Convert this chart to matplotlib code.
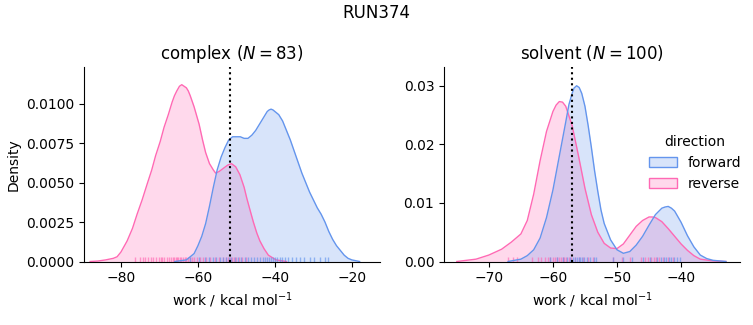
import matplotlib
matplotlib.use("Agg")
import matplotlib.pyplot as plt
from matplotlib.patches import Patch

# KDE curves (work in kcal/mol vs density), one per direction and phase
complex_rev_x = [-88, -86, -84, -82, -81, -80, -78.4, -77, -75.8, -74.5, -73.2, -72, -71, -69.8, -68.8,
                 -67.7, -66.7, -66.1, -65.5, -64.8, -64.2, -63.6, -63, -62.5, -62, -61, -59.7, -58.8,
                 -58, -57, -56, -55.4, -54.5, -53.4, -52.3, -51.3, -50.2, -49.1, -48, -47.3, -46.4, -45.6,
                 -44.7, -43.9, -42.8, -41.7, -39.7, -37]
complex_rev_y = [0, 0.00003, 0.0001, 0.0002, 0.0003, 0.0006, 0.0013, 0.0021, 0.0030, 0.0039, 0.0049,
                 0.0058, 0.0067, 0.0076, 0.0085, 0.0093, 0.0101, 0.0105, 0.0108, 0.0111, 0.0112, 0.0111,
                 0.0110, 0.0108, 0.0105, 0.0098, 0.0087, 0.0077, 0.0069, 0.0062, 0.0058, 0.0056, 0.0057,
                 0.0059, 0.0061, 0.0062, 0.0060, 0.0055, 0.0047, 0.0040, 0.0032, 0.0025, 0.0018, 0.0013,
                 0.0008, 0.0004, 0.0001, 0]

complex_fwd_x = [-66, -63, -61, -60, -59, -58, -57, -56, -55, -54, -53, -52, -51, -50, -49, -48, -47,
                 -46, -45, -44, -43, -42, -41.5, -41, -40.5, -40, -39, -38, -37, -36, -35, -34, -33, -32,
                 -31, -30, -29, -28, -27, -26, -25, -24, -23, -22, -21, -20, -18]
complex_fwd_y = [0, 0.0001, 0.0005, 0.0010, 0.0016, 0.0024, 0.0035, 0.0047, 0.0058, 0.0066, 0.0072,
                 0.0077, 0.0079, 0.0079, 0.0079, 0.0078, 0.0078, 0.0080, 0.0083, 0.0087, 0.0091, 0.0095,
                 0.0096, 0.00965, 0.0096, 0.0095, 0.0093, 0.0089, 0.0083, 0.0077, 0.0070, 0.0063, 0.0056,
                 0.0050, 0.0044, 0.0039, 0.0034, 0.0030, 0.0025, 0.0019, 0.0014, 0.0010, 0.0007, 0.0004,
                 0.0002, 0.0001, 0]

solvent_rev_x = [-75, -72, -70, -68, -66.5, -65, -64, -63, -62, -61, -60, -59.5, -59, -58.5, -58, -57,
                 -56, -55, -54, -53, -52, -51, -50, -49, -48, -47, -46, -45, -44.5, -44, -43, -42, -41,
                 -40, -39, -38, -37, -35, -33]
solvent_rev_y = [0, 0.0004, 0.0011, 0.0021, 0.0033, 0.0047, 0.0070, 0.0115, 0.0172, 0.0222, 0.0256,
                 0.0267, 0.0273, 0.0272, 0.0265, 0.0232, 0.0180, 0.0125, 0.0080, 0.0050, 0.0031, 0.0023,
                 0.0022, 0.0030, 0.0045, 0.0060, 0.0070, 0.0076, 0.0076, 0.0075, 0.0068, 0.0056, 0.0043,
                 0.0030, 0.0019, 0.0010, 0.0004, 0.0001, 0]

solvent_fwd_x = [-67, -65, -64, -63, -62, -61, -60, -59, -58, -57.5, -57, -56.7, -56.3, -55.9, -55.5,
                 -55, -54.5, -54, -53.5, -53, -52.5, -52, -51, -50, -49, -48, -47, -46, -45, -44, -43,
                 -42.5, -42, -41.5, -41, -40, -39, -38, -37, -36, -35, -33]
solvent_fwd_y = [0, 0.0004, 0.0010, 0.0020, 0.0040, 0.0075, 0.0122, 0.0180, 0.0238, 0.0268, 0.0287,
                 0.0296, 0.0300, 0.0297, 0.0287, 0.0265, 0.0232, 0.0195, 0.0155, 0.0120, 0.0088, 0.0065,
                 0.0037, 0.0020, 0.0014, 0.0017, 0.0028, 0.0043, 0.0062, 0.0080, 0.0091, 0.0093, 0.0094,
                 0.0091, 0.0086, 0.0067, 0.0044, 0.0025, 0.0011, 0.0005, 0.0002, 0]

# individual work values shown as rug ticks
complex_rev_rug = [-76.3, -75.1, -74.4, -73.8, -72.9, -72.2, -71.6, -70.8, -70.1, -69.7, -69.3, -68.7,
                   -68.0, -67.4, -66.9, -66.6, -66.3, -65.8, -65.5, -65.2, -64.7, -64.3, -63.9, -63.4,
                   -63.0, -62.5, -62.1, -61.6, -61.0, -60.3, -59.5, -58.8, -57.9, -56.9, -55.6, -54.4,
                   -53.5, -52.8, -52.2, -51.7, -51.2, -50.7, -50.1, -49.4, -48.6, -47.5]
complex_fwd_rug = [-62.1, -59.8, -58.2, -57.0, -56.1, -55.2, -54.3, -53.5, -52.8, -52.0, -51.3, -50.5,
                   -49.6, -48.8, -47.9, -47.0, -46.2, -45.4, -44.6, -43.9, -43.2, -42.6, -42.0, -41.5,
                   -41.0, -40.5, -40.0, -39.4, -38.8, -38.1, -37.3, -36.5, -35.6, -34.6, -33.5, -32.4,
                   -31.0, -29.8, -28.3, -27.0, -26.2]
solvent_rev_rug = [-67.0, -66.3, -65.6, -63.2, -62.4, -61.8, -61.2, -60.8, -60.4, -60.0, -59.7, -59.4,
                   -59.1, -58.8, -58.5, -58.2, -57.9, -57.5, -57.1, -56.6, -56.0, -55.3, -54.5, -53.8,
                   -50.6, -49.2, -48.0, -46.3, -45.6, -45.1, -44.7, -44.3, -43.9, -43.4, -42.8, -42.0,
                   -41.3]
solvent_fwd_rug = [-60.5, -59.3, -58.4, -57.8, -57.3, -56.9, -56.6, -56.3, -56.0, -55.7, -55.4, -55.1,
                   -54.7, -54.2, -53.6, -53.2, -50.6, -49.0, -47.6, -45.9, -44.8, -43.8, -43.2, -42.7,
                   -42.3, -41.9, -41.5, -41.1, -40.6, -40.2]

# free energy estimate per phase (dotted line)
complex_dg = -51.7
solvent_dg = -56.95

n_complex = 83
n_solvent = 100

fwd_color = "cornflowerblue"
rev_color = "hotpink"


def draw_panel(ax, rev, fwd, rev_rug, fwd_rug, dg):
    for (x, y), rug, c in [(rev, rev_rug, rev_color), (fwd, fwd_rug, fwd_color)]:
        ax.fill_between(x, y, 0, color=c, alpha=0.25, lw=0)
        ax.plot(x, y, color=c, lw=1)
        ax.vlines(rug, 0, 0.025, color=c, lw=1, alpha=0.65, transform=ax.get_xaxis_transform())
    ax.axvline(dg, color="k", ls=":", lw=1.5)
    ax.spines["top"].set_visible(False)
    ax.spines["right"].set_visible(False)
    ax.set_xlabel("work / kcal mol$^{-1}$")


fig = plt.figure(figsize=(7.53, 3.25), dpi=100)
ax1 = fig.add_axes([84 / 753, 63.5 / 325, 296 / 753, 194.5 / 325])
ax2 = fig.add_axes([444 / 753, 63.5 / 325, 296 / 753, 194.5 / 325])

draw_panel(ax1, (complex_rev_x, complex_rev_y), (complex_fwd_x, complex_fwd_y),
           complex_rev_rug, complex_fwd_rug, complex_dg)
ax1.set_xlim(-89.6, -12.7)
ax1.set_ylim(0, 0.01232)
ax1.set_xticks([-80, -60, -40, -20])
ax1.set_yticks([0, 0.0025, 0.005, 0.0075, 0.01])
ax1.set_yticklabels(["0.0000", "0.0025", "0.0050", "0.0075", "0.0100"])
ax1.set_ylabel("Density")
ax1.set_title(f"complex ($N = {n_complex}$)")

draw_panel(ax2, (solvent_rev_x, solvent_rev_y), (solvent_fwd_x, solvent_fwd_y),
           solvent_rev_rug, solvent_fwd_rug, solvent_dg)
ax2.set_xlim(-77.0, -30.8)
ax2.set_ylim(0, 0.0332)
ax2.set_xticks([-70, -60, -50, -40])
ax2.set_yticks([0, 0.01, 0.02, 0.03])
ax2.set_yticklabels(["0.00", "0.01", "0.02", "0.03"])
ax2.set_title(f"solvent ($N = {n_solvent}$)")

handles = [Patch(facecolor=(0.847, 0.894, 0.980), edgecolor=fwd_color),
           Patch(facecolor=(1.0, 0.851, 0.925), edgecolor=rev_color)]
ax2.legend(handles, ["forward", "reverse"], title="direction", frameon=False,
           loc="center left", bbox_to_anchor=(643.4 / 753, 1 - 163 / 325),
           bbox_transform=fig.transFigure, borderaxespad=0)

fig.suptitle("RUN374", fontsize=12, y=(325 - 13) / 325, va="center")

fig.savefig("out.png", dpi=100)
